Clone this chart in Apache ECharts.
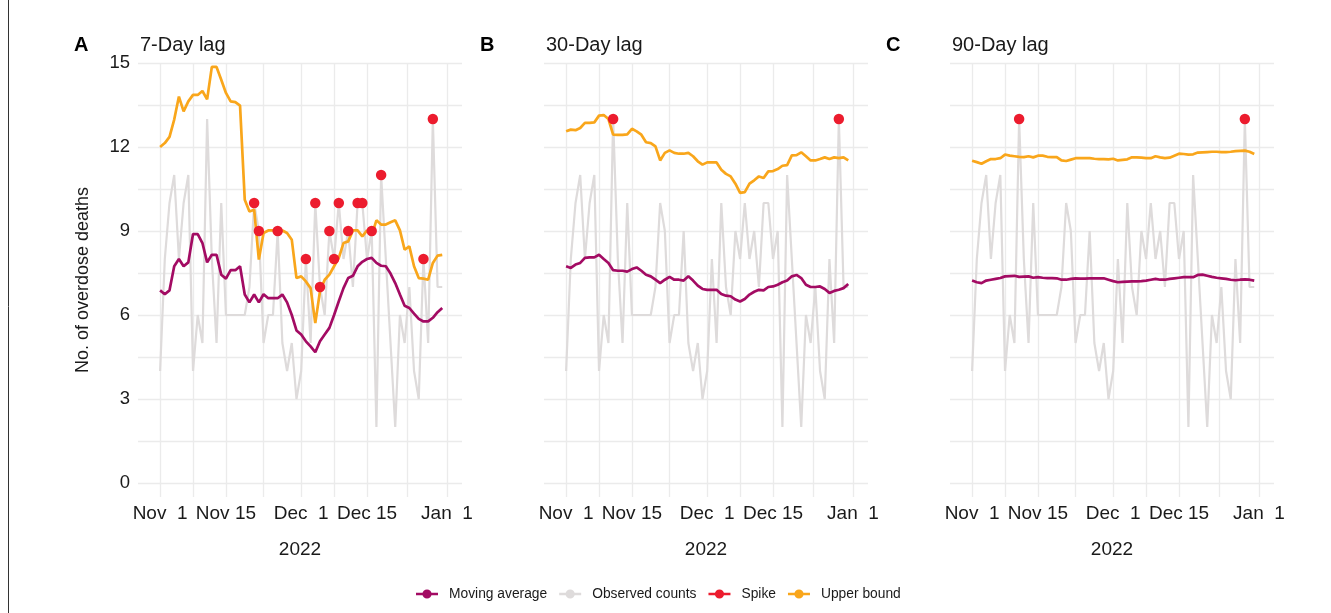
<!DOCTYPE html>
<html><head><meta charset="utf-8">
<script src="https://cdn.jsdelivr.net/npm/echarts@6/dist/echarts.min.js"></script>
<style>html,body{margin:0;padding:0;background:#fff}#c{width:1331px;height:613px}</style>
</head><body><div id="c"></div>
<script>
// x positions are day offsets from 2022-11-01
const tickDays = [0, 14, 30, 44, 61];
const tickLabels = ['Nov  1', 'Nov 15', 'Dec  1', 'Dec 15', 'Jan  1'];
const gridDays = [0, 7, 14, 22, 30, 37, 44, 52.5, 61];
const yTicks = [0, 3, 6, 9, 12, 15];
const yGrid = [0, 1.5, 3, 4.5, 6, 7.5, 9, 10.5, 12, 13.5, 15];

const observed = [4,8,10,11,8,10,11,4,6,5, 13,8,5,10,6,6,6,6,6,7, 10,9,5,6,6,9,5,4,5,3, 4,8,5,10,7,6,9,8,10,8, 9,7,10,10,8,9,2,11,8,5, 2,6,5,7,4,3,8,5,13,7, 7];

const movingA = [6.88,6.74,6.88,7.74,8.0,7.74,7.88,8.89,8.89,8.57, 7.88,8.15,8.15,7.44,7.3,7.6,7.6,7.74,6.73,6.45, 6.73,6.45,6.74,6.6,6.6,6.6,6.73,6.45,6.0,5.45, 5.3,5.06,4.88,4.67,5.06,5.3,5.54,6.0,6.49,6.96, 7.32,7.4,7.74,7.9,8.0,8.04,7.86,7.76,7.74,7.48, 7.14,6.73,6.33,6.25,6.05,5.86,5.77,5.77,5.9,6.1, 6.25];
const upperA = [12.0,12.14,12.36,12.98,13.8,13.27,13.63,13.86,13.86,14.0, 13.7,14.86,14.86,14.4,13.93,13.63,13.6,13.48,10.12,9.7, 9.76,7.98,8.93,9.02,9.02,8.9,9.02,8.93,8.69,7.32, 7.38,7.2,6.96,5.71,6.85,7.26,7.44,7.74,8.04,8.57, 8.63,9.02,9.02,8.81,9.02,8.85,9.38,9.23,9.23,9.31, 9.38,9.02,8.33,8.45,7.74,7.32,7.3,7.26,7.86,8.12, 8.15];
const spikeDaysA = [20,21,25,31,33,34,36,37,38,40,42,43,45,47,56,58];

const movingB = [7.74,7.68,7.8,7.86,8.04,8.06,8.06,8.15,8.0,7.86, 7.6,7.58,7.58,7.55,7.64,7.7,7.58,7.44,7.38,7.26, 7.14,7.26,7.36,7.26,7.26,7.23,7.38,7.23,7.05,6.93, 6.9,6.9,6.9,6.75,6.69,6.67,6.55,6.48,6.57,6.73, 6.83,6.9,6.88,7.0,7.02,7.08,7.17,7.23,7.38,7.43, 7.32,7.08,7.0,7.0,7.02,6.93,6.79,6.86,6.9,6.96, 7.11];
const upperB = [12.56,12.62,12.6,12.68,12.86,12.86,12.88,13.12,13.14,13.0, 12.44,12.43,12.43,12.45,12.65,12.56,12.44,12.17,12.14,12.02, 11.52,11.79,11.88,11.79,11.76,11.76,11.79,11.67,11.49,11.37, 11.45,11.45,11.45,11.19,11.04,10.95,10.69,10.36,10.39,10.69, 10.81,10.95,10.89,11.13,11.14,11.21,11.33,11.35,11.7,11.71, 11.81,11.67,11.52,11.52,11.57,11.63,11.57,11.63,11.6,11.63, 11.52];
const spikeDaysB = [10, 58];

const movingC = [7.23,7.17,7.14,7.23,7.26,7.29,7.32,7.38,7.39,7.4, 7.36,7.37,7.38,7.33,7.35,7.33,7.32,7.32,7.31,7.26, 7.26,7.29,7.31,7.3,7.3,7.31,7.31,7.31,7.31,7.26, 7.21,7.17,7.18,7.19,7.2,7.2,7.21,7.23,7.26,7.29, 7.26,7.26,7.29,7.31,7.33,7.35,7.35,7.35,7.43,7.44, 7.4,7.36,7.33,7.31,7.29,7.26,7.24,7.26,7.27,7.26, 7.23];
const upperC = [11.51,11.46,11.4,11.49,11.57,11.57,11.6,11.73,11.69,11.67, 11.65,11.64,11.67,11.63,11.69,11.69,11.65,11.64,11.64,11.52, 11.5,11.55,11.6,11.6,11.6,11.6,11.58,11.57,11.57,11.56, 11.58,11.52,11.54,11.56,11.63,11.63,11.62,11.6,11.6,11.67, 11.63,11.6,11.62,11.69,11.76,11.75,11.73,11.74,11.8,11.81, 11.82,11.83,11.83,11.82,11.82,11.83,11.85,11.86,11.87,11.83, 11.75];
const spikeDaysC = [10, 58];

const panelLetters = ['A', 'B', 'C'];
const panelTitles = ['7-Day lag', '30-Day lag', '90-Day lag'];
const seriesNames = ['Moving average', 'Observed counts', 'Spike', 'Upper bound'];

const COL = {ma: '#A30B63', obs: '#DEDBDB', spike: '#EC1C2E', ub: '#F9A61B'};
const TXT = '#1a1a1a';
const FONT = 'Liberation Sans, Arial, Helvetica, sans-serif';

const panels = [
  {ma: movingA, ub: upperA, spikes: spikeDaysA},
  {ma: movingB, ub: upperB, spikes: spikeDaysB},
  {ma: movingC, ub: upperC, spikes: spikeDaysC}
];
const gridLefts = [138, 544, 950];

const pairs = arr => arr.map((v, i) => [i, v]);

const grids = [], xAxes = [], yAxes = [], series = [], graphics = [];
panels.forEach((p, k) => {
  grids.push({left: gridLefts[k], top: 63, width: 324, height: 434});
  xAxes.push({
    type: 'value', gridIndex: k, min: -4.7, max: 64.2,
    axisLine: {show: false},
    axisTick: {show: false, customValues: gridDays},
    splitLine: {show: true, lineStyle: {color: '#EBEBEB', width: 1.3}},
    axisLabel: {customValues: tickDays, formatter: v => tickLabels[tickDays.indexOf(v)],
      fontSize: 19, color: TXT, margin: 7, fontFamily: FONT},
    name: '2022', nameLocation: 'middle', nameGap: 43,
    nameTextStyle: {fontSize: 19, color: TXT, fontFamily: FONT}
  });
  yAxes.push({
    type: 'value', gridIndex: k, min: -0.5, max: 15,
    axisLine: {show: false},
    axisTick: {show: false, customValues: yGrid},
    splitLine: {show: true, lineStyle: {color: '#EBEBEB', width: 1.3}},
    axisLabel: {show: k === 0, customValues: yTicks, fontSize: 18.5, color: TXT, margin: 8, fontFamily: FONT},
    name: k === 0 ? 'No. of overdose deaths' : '', nameLocation: 'middle', nameGap: 46,
    nameTextStyle: {fontSize: 18, color: TXT, fontFamily: FONT}
  });
  series.push({
    name: 'Observed counts', type: 'line', xAxisIndex: k, yAxisIndex: k, data: pairs(observed),
    symbol: 'none', lineStyle: {color: COL.obs, width: 2.2}, itemStyle: {color: COL.obs}, z: 2
  });
  series.push({
    name: 'Moving average', type: 'line', xAxisIndex: k, yAxisIndex: k, data: pairs(p.ma),
    symbol: 'none', lineStyle: {color: COL.ma, width: 2.7}, itemStyle: {color: COL.ma}, z: 3
  });
  series.push({
    name: 'Upper bound', type: 'line', xAxisIndex: k, yAxisIndex: k, data: pairs(p.ub),
    symbol: 'none', lineStyle: {color: COL.ub, width: 2.7}, itemStyle: {color: COL.ub}, z: 4
  });
  series.push({
    name: 'Spike', type: 'scatter', xAxisIndex: k, yAxisIndex: k,
    data: p.spikes.map(d => [d, observed[d]]),
    symbol: 'circle', symbolSize: 10.5, itemStyle: {color: COL.spike, opacity: 1}, z: 5
  });
  graphics.push({type: 'text', left: 74 + 406 * k, top: 35,
    style: {text: panelLetters[k], font: 'bold 20px ' + FONT, fill: '#000'}});
  graphics.push({type: 'text', left: 140 + 406 * k, top: 35,
    style: {text: panelTitles[k], font: '20px ' + FONT, fill: TXT}});
});
graphics.push({type: 'line', shape: {x1: 8.5, y1: 0, x2: 8.5, y2: 613}, style: {stroke: '#333', lineWidth: 1}});

const legendIcon = 'path://M0,4 L22,4 L22,6.4 L0,6.4 Z M6.4,5.2 A4.6,4.6 0 1 1 15.6,5.2 A4.6,4.6 0 1 1 6.4,5.2 Z';

const chart = echarts.init(document.getElementById('c'), null, {renderer: 'canvas'});
chart.setOption({
  animation: false,
  backgroundColor: '#fff',
  textStyle: {fontFamily: FONT},
  grid: grids, xAxis: xAxes, yAxis: yAxes, series: series,
  graphic: graphics,
  legend: {
    data: seriesNames.map(n => ({name: n, icon: legendIcon})),
    left: 411, top: 582, itemWidth: 22, itemHeight: 10, itemGap: 12,
    textStyle: {fontSize: 13.8, color: TXT, fontFamily: FONT, padding: [0, 0, 0, 6]},
    selectedMode: false
  }
});
</script></body></html>
